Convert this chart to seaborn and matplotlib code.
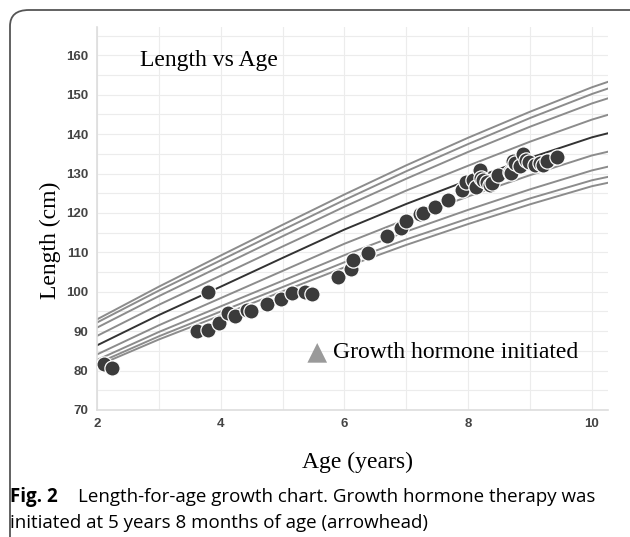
import numpy as np
import pandas as pd
import matplotlib
matplotlib.use("Agg")
import matplotlib.pyplot as plt
from matplotlib.patches import FancyBboxPatch
import seaborn as sns

# ---- growth reference curves (cm) ----
ages = [2, 3, 4, 5, 6, 7, 8, 9, 10, 10.3]
p97 = [93.0, 101.3, 109.2, 117.0, 124.7, 132.1, 139.1, 145.7, 151.9, 153.5]
p95 = [92.2, 100.3, 108.0, 115.7, 123.3, 130.6, 137.5, 144.1, 150.2, 151.8]
p90 = [90.9, 98.9, 106.5, 114.1, 121.6, 128.7, 135.5, 141.9, 147.8, 149.3]
p75 = [88.8, 96.7, 104.1, 111.5, 118.8, 125.7, 132.0, 138.1, 143.7, 145.1]
p50 = [86.4, 94.1, 101.3, 108.6, 115.8, 122.3, 128.3, 134.0, 139.2, 140.4]
p25 = [84.1, 91.5, 98.4, 105.3, 112.2, 118.4, 124.2, 129.6, 134.6, 135.7]
p10 = [82.7, 89.8, 96.3, 102.8, 109.3, 115.3, 120.8, 126.0, 130.8, 131.9]
p5 = [81.8, 88.7, 95.0, 101.2, 107.5, 113.3, 118.6, 123.7, 128.3, 129.3]
p3 = [81.2, 87.9, 94.0, 100.1, 106.2, 111.9, 117.2, 122.2, 126.8, 127.8]

# ---- patient measurements ----
pt_age = [2.12, 2.25, 3.61, 3.80, 3.79, 3.97, 4.12, 4.23, 4.42, 4.49, 4.74,
          4.98, 5.16, 5.36, 5.47, 5.90, 6.11, 6.14, 6.38, 6.69, 6.92, 7.00,
          7.22, 7.27, 7.46, 7.68, 7.90, 7.97, 8.08, 8.13, 8.19, 8.21, 8.24,
          8.30, 8.35, 8.38, 8.48, 8.67, 8.70, 8.73, 8.75, 8.83, 8.89, 8.94,
          8.99, 9.08, 9.16, 9.21, 9.27, 9.43]
pt_len = [81.6, 80.7, 90.1, 90.3, 99.9, 92.2, 94.5, 93.9, 95.4, 95.0, 97.0,
          98.1, 99.8, 100.0, 99.4, 103.8, 105.7, 108.1, 109.8, 114.2, 116.1, 118.0,
          119.7, 120.1, 121.6, 123.4, 125.8, 127.8, 128.4, 126.7, 130.9, 128.8, 128.4,
          127.9, 127.1, 127.5, 129.6, 130.3, 130.1, 133.1, 132.6, 131.8, 135.0, 133.5,
          132.9, 132.2, 132.6, 132.2, 133.1, 134.3]

gh_start = (5.56, 84.5)

curves = pd.DataFrame({
    "age": ages * 9,
    "length": p97 + p95 + p90 + p75 + p50 + p25 + p10 + p5 + p3,
    "pct": sum([[p] * len(ages) for p in ["97", "95", "90", "75", "50", "25", "10", "5", "3"]], []),
})
pts = pd.DataFrame({"age": pt_age, "length": pt_len})

W, H = 630, 537
fig = plt.figure(figsize=(W / 100, H / 100), dpi=100)
fig.patch.set_facecolor("white")
ax = fig.add_axes([97 / W, 1 - 410 / H, (608 - 97) / W, (410 - 27) / H])

pal = {p: "#8c8c8c" for p in ["97", "95", "90", "75", "25", "10", "5", "3"]}
pal["50"] = "#333333"
sns.lineplot(data=curves, x="age", y="length", hue="pct", palette=pal,
             linewidth=1.4, legend=False, ax=ax, zorder=2)
sns.scatterplot(data=pts, x="age", y="length", color="#3b3b3b", s=120,
                edgecolor="white", linewidth=0.9, ax=ax, zorder=3)
ax.scatter([gh_start[0]], [gh_start[1]], marker="^", s=200, color="#9a9a9a",
           edgecolor="none", zorder=3)
ax.text(gh_start[0] + 0.25, gh_start[1], "Growth hormone initiated",
        family="Liberation Serif", fontsize=17, va="center", ha="left", color="black")
ax.text(2.7, 158.7, "Length vs Age", family="Liberation Serif", fontsize=17,
        va="center", ha="left", color="black")

ax.set_xlim(2, 10.26)
ax.set_ylim(70, 167.2)
ax.set_xticks([2, 4, 6, 8, 10])
ax.set_yticks(range(70, 161, 10))
ax.set_xticks(np.arange(3, 11, 1), minor=True)
ax.set_yticks(range(75, 166, 10), minor=True)
ax.grid(True, which="both", color="#ececec", linewidth=0.8)
ax.set_axisbelow(True)
for side in ["top", "right"]:
    ax.spines[side].set_visible(False)
for side in ["left", "bottom"]:
    ax.spines[side].set_color("#dddddd")
    ax.spines[side].set_linewidth(1.2)
ax.tick_params(which="both", length=0, pad=6)
for lab in ax.get_xticklabels() + ax.get_yticklabels():
    lab.set_family("Liberation Sans")
    lab.set_fontweight("bold")
    lab.set_fontsize(9.5)
    lab.set_color("#444444")
ax.set_xlabel("")
ax.set_ylabel("")

fig.text(50 / W, 1 - 240 / H, "Length (cm)", family="Liberation Serif", fontsize=17,
         rotation=90, ha="center", va="center")
fig.text(357 / W, 1 - 462 / H, "Age (years)", family="Liberation Serif", fontsize=17,
         ha="center", va="center")

fig.text(10 / W, 1 - 497 / H, "Fig. 2", family="Open Sans", fontweight="bold",
         fontsize=13.5, ha="left", va="center")
fig.text(78 / W, 1 - 497 / H, "Length-for-age growth chart. Growth hormone therapy was",
         family="Open Sans", fontsize=13.5, ha="left", va="center")
fig.text(10 / W, 1 - 523 / H, "initiated at 5 years 8 months of age (arrowhead)",
         family="Open Sans", fontsize=13.5, ha="left", va="center")

frame = FancyBboxPatch((10 / W, -0.1), (622 - 10) / W + 0.05, 1 - 10 / H + 0.1,
                       boxstyle="round,pad=0,rounding_size=0.03",
                       transform=fig.transFigure, fill=False,
                       edgecolor="#555555", linewidth=1.3, clip_on=False)
fig.add_artist(frame)

fig.savefig("out.png", dpi=100)
